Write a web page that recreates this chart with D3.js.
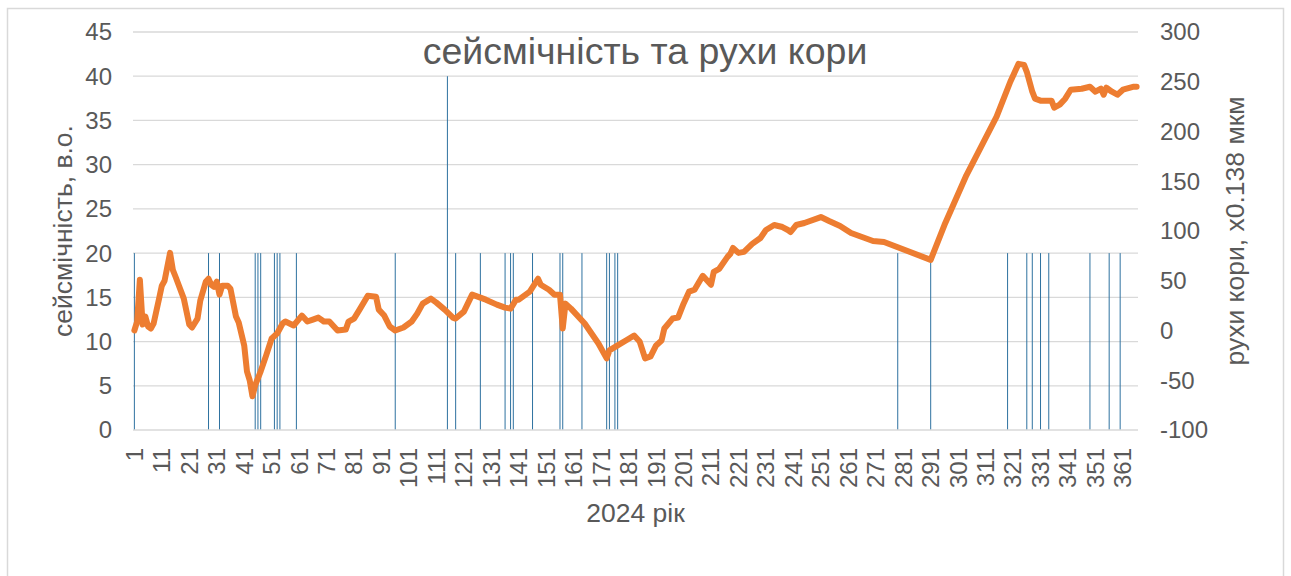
<!DOCTYPE html>
<html>
<head>
<meta charset="utf-8">
<script src="https://cdn.jsdelivr.net/npm/d3@7"></script>
<style>
  html, body { margin: 0; padding: 0; background: #fff; }
  svg { display: block; font-family: "Liberation Sans", Arial, sans-serif; }
</style>
</head>
<body>
<svg id="chart" width="1291" height="576"></svg>
<script>
// categories: days of 2024 (leap year)
const dayCategories = d3.range(1, 367)
const dayTickLabels = d3.range(1, 367, 10)

// seismicity (left axis), events only
const quakeDays = [1, 28, 32, 45, 46, 47, 52, 53, 54, 60, 96, 115, 118, 127, 136, 138, 139, 146, 156, 157, 164, 173, 174, 176, 177, 279, 291, 319, 326, 328, 331, 334, 349, 356, 360]
const quakeValues = [20, 20, 20, 20, 20, 20, 20, 20, 20, 20, 20, 40, 20, 20, 20, 20, 20, 20, 20, 20, 20, 20, 20, 20, 20, 20, 20, 20, 20, 20, 20, 20, 20, 20, 20]

// crust movement (right axis)
const crustDays = [1, 2, 3, 4, 5, 6, 7, 8, 10, 11, 12, 14, 15, 16, 19, 21, 22, 24, 25, 27, 28, 29, 30, 31, 32, 33, 35, 36, 38, 39, 41, 42, 43, 44, 45, 47, 49, 51, 53, 55, 56, 59, 62, 64, 66, 68, 70, 72, 75, 78, 79, 81, 83, 86, 89, 90, 92, 94, 96, 99, 102, 104, 106, 109, 111, 114, 117, 118, 121, 124, 129, 133, 136, 138, 140, 141, 145, 148, 149, 152, 154, 156, 157, 158, 160, 165, 170, 173, 174, 177, 180, 183, 185, 187, 189, 191, 193, 194, 197, 199, 201, 203, 205, 208, 211, 212, 214, 217, 218, 219, 221, 223, 226, 229, 231, 234, 237, 239, 240, 242, 245, 251, 254, 258, 262, 270, 274, 291, 296, 304, 315, 320, 323, 325, 326, 328, 329, 331, 333, 335, 336, 338, 340, 342, 346, 349, 351, 353, 354, 355, 357, 359, 361, 365, 366]
const crustValues = [0, 9, 51, 6, 14, 4, 2, 7, 32, 45, 50, 78, 61, 54, 32, 6, 3, 12, 30, 49, 52, 46, 44, 49, 36, 45, 45, 42, 14, 8, -15, -41, -50, -66, -55, -41, -25, -8, -3, 7, 9, 5, 15, 9, 11, 13, 9, 9, 0, 1, 9, 12, 21, 35, 34, 21, 15, 4, 0, 3, 9, 17, 27, 32, 28, 21, 13, 12, 19, 36, 31, 26, 23, 22, 31, 31, 39, 52, 46, 41, 36, 36, 2, 27, 22, 7, -13, -28, -20, -15, -10, -5, -11, -28, -26, -15, -10, 2, 12, 13, 27, 39, 41, 55, 46, 59, 62, 74, 77, 83, 78, 79, 87, 93, 101, 106, 104, 101, 99, 106, 108, 114, 110, 105, 98, 90, 89, 71, 106, 156, 215, 250, 268, 267, 260, 240, 233, 231, 231, 231, 224, 227, 233, 242, 243, 245, 240, 243, 237, 244, 240, 237, 242, 245, 245]

const leftTicks = d3.range(0, 46, 5)
const rightTicks = d3.range(-100, 301, 50)

const svg = d3.select("#chart")
const plot = { left: 133, right: 1138, top: 32, bottom: 430 }
const textColor = "#595959"
const tickFont = 24
const axisTitleFont = 26.5

// outer chart frame
svg.append("rect")
  .attr("x", 7.5).attr("y", 8.5)
  .attr("width", 1276).attr("height", 580)
  .attr("fill", "#fff")
  .attr("stroke", "#d9d9d9")
  .attr("stroke-width", 1.5)

const x = d3.scaleBand().domain(dayCategories).range([plot.left, plot.right])
const yLeft = d3.scaleLinear().domain([0, 45]).range([plot.bottom, plot.top])
const yRight = d3.scaleLinear().domain([-100, 300]).range([plot.bottom, plot.top])
const cx = (d) => x(d) + x.bandwidth() / 2

// gridlines (left axis)
svg.append("g")
  .selectAll("line")
  .data(leftTicks.filter((t) => t > 0))
  .join("line")
  .attr("x1", plot.left).attr("x2", plot.right)
  .attr("y1", (d) => yLeft(d)).attr("y2", (d) => yLeft(d))
  .attr("stroke", "#d9d9d9")
  .attr("stroke-width", 1.3)

// seismicity columns
const barW = 1
svg.append("g")
  .selectAll("rect")
  .data(quakeDays.map((d, i) => ({ day: d, value: quakeValues[i] })))
  .join("rect")
  .attr("x", (d) => cx(d.day) - barW / 2)
  .attr("width", barW)
  .attr("y", (d) => yLeft(d.value))
  .attr("height", (d) => yLeft(0) - yLeft(d.value))
  .attr("fill", "#2f72a0")

// category axis line
svg.append("line")
  .attr("x1", plot.left).attr("x2", plot.right)
  .attr("y1", plot.bottom).attr("y2", plot.bottom)
  .attr("stroke", "#d9d9d9")
  .attr("stroke-width", 1.5)

// crust movement line
const line = d3.line()
  .x((d) => cx(d.day))
  .y((d) => yRight(d.value))
svg.append("path")
  .datum(crustDays.map((d, i) => ({ day: d, value: crustValues[i] })))
  .attr("d", line)
  .attr("fill", "none")
  .attr("stroke", "#ed7d31")
  .attr("stroke-width", 6)
  .attr("stroke-linejoin", "round")
  .attr("stroke-linecap", "round")

// left axis labels
svg.append("g")
  .selectAll("text")
  .data(leftTicks)
  .join("text")
  .attr("x", 112)
  .attr("y", (d) => yLeft(d))
  .attr("dy", "0.35em")
  .attr("text-anchor", "end")
  .attr("font-size", tickFont)
  .attr("fill", textColor)
  .text((d) => d)

// right axis labels
svg.append("g")
  .selectAll("text")
  .data(rightTicks)
  .join("text")
  .attr("x", 1160)
  .attr("y", (d) => yRight(d))
  .attr("dy", "0.35em")
  .attr("text-anchor", "start")
  .attr("font-size", tickFont)
  .attr("fill", textColor)
  .text((d) => d)

// day labels, rotated
svg.append("g")
  .selectAll("text")
  .data(dayTickLabels)
  .join("text")
  .attr("transform", (d) => `translate(${cx(d)}, ${plot.bottom + 18}) rotate(-90)`)
  .attr("dy", "0.35em")
  .attr("text-anchor", "end")
  .attr("font-size", tickFont)
  .attr("fill", textColor)
  .text((d) => d)

// titles
svg.append("text")
  .attr("x", 645).attr("y", 64)
  .attr("text-anchor", "middle")
  .attr("font-size", 37.5)
  .attr("fill", textColor)
  .text("сейсмічність та рухи кори")

svg.append("text")
  .attr("x", (plot.left + plot.right) / 2).attr("y", 522)
  .attr("text-anchor", "middle")
  .attr("font-size", axisTitleFont)
  .attr("fill", textColor)
  .text("2024 рік")

svg.append("text")
  .attr("transform", `translate(63, ${(plot.top + plot.bottom) / 2}) rotate(-90)`)
  .attr("dy", "0.35em")
  .attr("text-anchor", "middle")
  .attr("font-size", axisTitleFont)
  .attr("fill", textColor)
  .text("сейсмічність, в.о.")

svg.append("text")
  .attr("transform", `translate(1235, ${(plot.top + plot.bottom) / 2}) rotate(-90)`)
  .attr("dy", "0.35em")
  .attr("text-anchor", "middle")
  .attr("font-size", axisTitleFont)
  .attr("fill", textColor)
  .text("рухи кори, х0.138 мкм")
</script>
</body>
</html>
